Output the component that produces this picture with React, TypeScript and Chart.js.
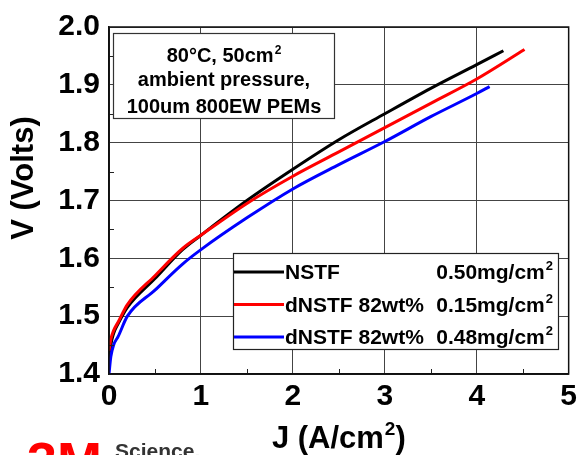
import React, { useEffect, useRef } from "react";
import { Chart, registerables } from "chart.js";

Chart.register(...registerables);

const FONT = "'Liberation Sans', Arial, Helvetica, sans-serif";

// Current density (A/cm^2) and cell voltage (V) for each catalyst
const jNstf = [0, 0.02, 0.05, 0.1, 0.2, 0.5, 0.8, 1.0, 1.5, 2.0, 2.5, 3.0, 3.5, 4.0, 4.29];
const vNstf = [1.42, 1.45, 1.47, 1.487, 1.515, 1.565, 1.615, 1.64, 1.7, 1.754, 1.805, 1.85, 1.894, 1.935, 1.959];

const jDnstf015 = [0, 0.02, 0.05, 0.1, 0.2, 0.5, 0.8, 1.0, 1.5, 2.0, 2.5, 3.0, 3.5, 4.0, 4.52];
const vDnstf015 = [1.44, 1.46, 1.475, 1.49, 1.52, 1.57, 1.617, 1.64, 1.695, 1.742, 1.784, 1.826, 1.868, 1.91, 1.961];

const jDnstf048 = [0, 0.02, 0.05, 0.1, 0.2, 0.5, 0.8, 1.0, 1.5, 2.0, 2.5, 3.0, 3.5, 4.0, 4.14];
const vDnstf048 = [1.4, 1.43, 1.45, 1.465, 1.5, 1.545, 1.59, 1.615, 1.67, 1.72, 1.762, 1.802, 1.845, 1.885, 1.897];

const seriesJ = [jNstf, jDnstf015, jDnstf048];
const seriesV = [vNstf, vDnstf015, vDnstf048];
const seriesNames = ["NSTF", "dNSTF 82wt%", "dNSTF 82wt%"];
const seriesLoadings = ["0.50mg/cm^2", "0.15mg/cm^2", "0.48mg/cm^2"];
const seriesColors = ["#000000", "#ff0000", "#0000ff"];

const xTickValues = [0, 1, 2, 3, 4, 5];
const yTickValues = [1.4, 1.5, 1.6, 1.7, 1.8, 1.9, 2.0];

const xTitle = "J (A/cm^2)";
const yTitle = "V (Volts)";
const conditionLines = ["80°C, 50cm^2", "ambient pressure,", "100um 800EW PEMs"];

// Draws text where "^x" marks a superscript segment
function richWidth(ctx: CanvasRenderingContext2D, text: string, size: number) {
  const [base, sup] = text.split("^");
  ctx.font = `bold ${size}px ${FONT}`;
  let w = ctx.measureText(base).width;
  if (sup !== undefined) {
    const rest = sup.slice(1);
    ctx.font = `bold ${Math.round(size * 0.6)}px ${FONT}`;
    w += ctx.measureText(sup[0]).width + 1;
    ctx.font = `bold ${size}px ${FONT}`;
    w += ctx.measureText(rest).width;
  }
  return w;
}

function drawRich(
  ctx: CanvasRenderingContext2D,
  text: string,
  x: number,
  y: number,
  size: number,
  align: "left" | "center" | "right"
) {
  const w = richWidth(ctx, text, size);
  let left = x;
  if (align === "center") left = x - w / 2;
  if (align === "right") left = x - w;
  const [base, sup] = text.split("^");
  ctx.textAlign = "left";
  ctx.textBaseline = "alphabetic";
  ctx.font = `bold ${size}px ${FONT}`;
  ctx.fillText(base, left, y);
  left += ctx.measureText(base).width;
  if (sup !== undefined) {
    ctx.font = `bold ${Math.round(size * 0.6)}px ${FONT}`;
    ctx.fillText(sup[0], left + 1, y - size * 0.42);
    left += ctx.measureText(sup[0]).width + 1;
    ctx.font = `bold ${size}px ${FONT}`;
    ctx.fillText(sup.slice(1), left, y);
  }
}

const decorations = {
  id: "decorations",
  afterDatasetsDraw(chart: any) {
    const { ctx, chartArea: ca, scales } = chart;
    const xs = scales.x;
    const ys = scales.y;
    ctx.save();

    // inward minor ticks
    ctx.strokeStyle = "#222";
    ctx.lineWidth = 1;
    for (let i = 0; i < xTickValues.length - 1; i++) {
      const px = Math.round(xs.getPixelForValue((xTickValues[i] + xTickValues[i + 1]) / 2)) + 0.5;
      ctx.beginPath();
      ctx.moveTo(px, ca.bottom);
      ctx.lineTo(px, ca.bottom - 5);
      ctx.stroke();
    }
    for (let i = 0; i < yTickValues.length - 1; i++) {
      const py = Math.round(ys.getPixelForValue((yTickValues[i] + yTickValues[i + 1]) / 2)) + 0.5;
      ctx.beginPath();
      ctx.moveTo(ca.left, py);
      ctx.lineTo(ca.left + 5, py);
      ctx.stroke();
    }

    // plot frame
    ctx.strokeStyle = "#111";
    ctx.lineWidth = 1.5;
    ctx.strokeRect(ca.left, ca.top, ca.right - ca.left, ca.bottom - ca.top);

    // test conditions box
    ctx.fillStyle = "#fff";
    ctx.fillRect(113, 33, 221, 85);
    ctx.strokeStyle = "#333";
    ctx.lineWidth = 1.2;
    ctx.strokeRect(113.5, 33.5, 221, 85);
    ctx.fillStyle = "#000";
    const condBaselines = [62, 86, 113];
    conditionLines.forEach((t, i) => drawRich(ctx, t, 224, condBaselines[i], 20, "center"));

    // legend box
    ctx.fillStyle = "#fff";
    ctx.fillRect(233, 253, 325, 96);
    ctx.strokeStyle = "#222";
    ctx.lineWidth = 1.2;
    ctx.strokeRect(233.5, 253.5, 325, 96);
    seriesNames.forEach((name, i) => {
      const ly = 272 + i * 32.5;
      ctx.strokeStyle = seriesColors[i];
      ctx.lineWidth = 3;
      ctx.beginPath();
      ctx.moveTo(234, ly);
      ctx.lineTo(284, ly);
      ctx.stroke();
      ctx.fillStyle = "#000";
      drawRich(ctx, name, 285, ly + 7, 21, "left");
      drawRich(ctx, seriesLoadings[i], 553, ly + 7, 21, "right");
    });

    // axis titles
    ctx.fillStyle = "#000";
    drawRich(ctx, xTitle, (ca.left + ca.right) / 2, 448, 31, "center");
    ctx.save();
    ctx.translate(33, 178);
    ctx.rotate(-Math.PI / 2);
    drawRich(ctx, yTitle, 0, 0, 31, "center");
    ctx.restore();

    // footer logo
    ctx.fillStyle = "#ff0000";
    ctx.font = `bold 54px ${FONT}`;
    ctx.textAlign = "left";
    ctx.textBaseline = "alphabetic";
    ctx.fillText("3M", 27, 480);
    ctx.fillStyle = "#333";
    ctx.font = `bold 21px ${FONT}`;
    ctx.fillText("Science.", 115, 458);

    ctx.restore();
  },
};

export default function App() {
  const ref = useRef<HTMLCanvasElement | null>(null);

  useEffect(() => {
    if (!ref.current) return;
    const datasets = seriesNames.map((name, i) => ({
      label: `${name} ${seriesLoadings[i]}`,
      data: seriesJ[i].map((j, k) => ({ x: j, y: seriesV[i][k] })),
      borderColor: seriesColors[i],
      backgroundColor: seriesColors[i],
      borderWidth: 3,
      pointRadius: 0,
      fill: false,
      cubicInterpolationMode: "monotone" as const,
    }));
    // draw the first series on top
    const ordered = [datasets[2], datasets[1], datasets[0]];

    const tickFont = { family: FONT, size: 30, weight: "bold" as const };
    const chart = new Chart(ref.current, {
      type: "line",
      data: { datasets: ordered },
      options: {
        responsive: false,
        maintainAspectRatio: false,
        devicePixelRatio: 1,
        animation: false,
        layout: { padding: { top: 20, right: 10, left: 0, bottom: 0 } },
        scales: {
          x: {
            type: "linear",
            min: xTickValues[0],
            max: xTickValues[xTickValues.length - 1],
            afterBuildTicks: (s: any) => {
              s.ticks = xTickValues.map((v) => ({ value: v }));
            },
            ticks: {
              font: tickFont,
              color: "#000",
              padding: 5,
              maxRotation: 0,
              callback: (v: any) => String(v),
            },
            grid: { color: "#444", lineWidth: 1, drawTicks: false },
            border: { display: true, color: "#111", width: 1.5 },
            afterFit: (s: any) => {
              s.height = 81;
            },
          },
          y: {
            type: "linear",
            min: yTickValues[0],
            max: yTickValues[yTickValues.length - 1],
            afterBuildTicks: (s: any) => {
              s.ticks = yTickValues.map((v) => ({ value: v }));
            },
            ticks: {
              font: tickFont,
              color: "#000",
              padding: 9,
              callback: (v: any) => Number(v).toFixed(1),
            },
            grid: { color: "#444", lineWidth: 1, drawTicks: false },
            border: { display: true, color: "#111", width: 1.5 },
            afterFit: (s: any) => {
              s.width = 109;
            },
          },
        },
        plugins: {
          legend: { display: false },
          tooltip: { enabled: false },
          title: { display: false },
        },
      },
      plugins: [decorations],
    });
    return () => chart.destroy();
  }, []);

  return (
    <div style={{ position: "fixed", left: 0, top: 0, width: 582, height: 455, background: "#fff" }}>
      <canvas ref={ref} width={582} height={455} style={{ display: "block" }} />
    </div>
  );
}
